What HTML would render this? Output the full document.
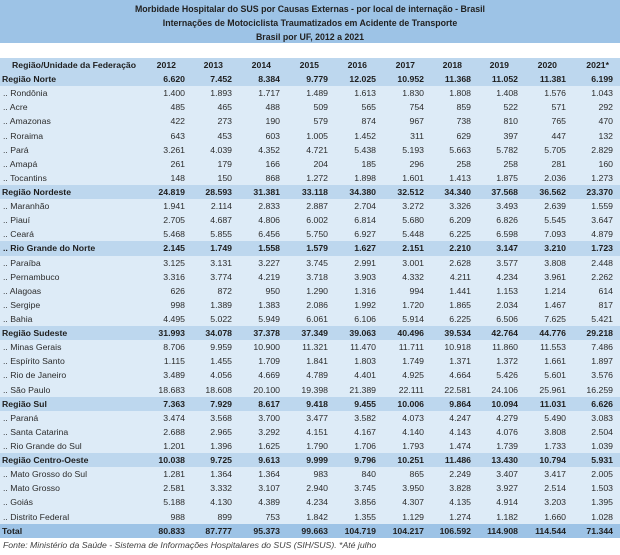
<!DOCTYPE html>
<html><head><meta charset="utf-8">
<style>
*{margin:0;padding:0;box-sizing:border-box}
html,body{width:620px;height:555px;background:#fff;overflow:hidden}
body{position:relative;font-family:"Liberation Sans",Arial,sans-serif;color:#2a2a2a}
#title{position:absolute;left:0;top:0;width:620px;height:43px;background:#9DC3E6;text-align:center;font-weight:bold;font-size:8.8px;line-height:14px;padding-top:2px;color:#222}
#tbl{position:absolute;left:0;top:58px;width:620px}
.r{position:relative;height:14.12px;line-height:14.12px;font-size:8.7px;background:#DDEBF7;color:#2c2c2c}
.r.g{background:#BDD7EE;font-weight:bold;color:#1e1e1e}
.r.h{background:#BDD7EE;font-weight:bold;color:#1e1e1e}
.r.t{background:#9DC3E6;font-weight:bold;color:#1e1e1e}
.r span{position:absolute;top:0;white-space:nowrap}
.r .l{left:2px}
.r.s .l{left:3px}
.r.h .l{left:12px}
.c1{right:435px}.c2{right:388px}.c3{right:340px}.c4{right:292px}.c5{right:244px}
.c6{right:196px}.c7{right:149px}.c8{right:102px}.c9{right:54px}.c10{right:7px}
.r.h .c1{right:444px}.r.h .c2{right:397px}.r.h .c3{right:349px}.r.h .c4{right:301px}.r.h .c5{right:253px}
.r.h .c6{right:205px}.r.h .c7{right:158px}.r.h .c8{right:111px}.r.h .c9{right:63px}.r.h .c10{right:11px}
#foot{position:absolute;left:3px;top:539px;font-style:italic;font-size:8.7px;line-height:12px;color:#404040;white-space:nowrap}
</style></head><body>
<div id="title">
<div>Morbidade Hospitalar do SUS por Causas Externas - por local de internação - Brasil</div>
<div>Internações de Motociclista Traumatizados em Acidente de Transporte</div>
<div>Brasil por UF, 2012 a 2021</div>
</div>
<div id="tbl">
<div class="r h"><span class="l">Região/Unidade da Federação</span><span class="c1">2012</span><span class="c2">2013</span><span class="c3">2014</span><span class="c4">2015</span><span class="c5">2016</span><span class="c6">2017</span><span class="c7">2018</span><span class="c8">2019</span><span class="c9">2020</span><span class="c10">2021*</span></div>
<div class="r g"><span class="l">Região Norte</span><span class="c1">6.620</span><span class="c2">7.452</span><span class="c3">8.384</span><span class="c4">9.779</span><span class="c5">12.025</span><span class="c6">10.952</span><span class="c7">11.368</span><span class="c8">11.052</span><span class="c9">11.381</span><span class="c10">6.199</span></div>
<div class="r s"><span class="l">.. Rondônia</span><span class="c1">1.400</span><span class="c2">1.893</span><span class="c3">1.717</span><span class="c4">1.489</span><span class="c5">1.613</span><span class="c6">1.830</span><span class="c7">1.808</span><span class="c8">1.408</span><span class="c9">1.576</span><span class="c10">1.043</span></div>
<div class="r s"><span class="l">.. Acre</span><span class="c1">485</span><span class="c2">465</span><span class="c3">488</span><span class="c4">509</span><span class="c5">565</span><span class="c6">754</span><span class="c7">859</span><span class="c8">522</span><span class="c9">571</span><span class="c10">292</span></div>
<div class="r s"><span class="l">.. Amazonas</span><span class="c1">422</span><span class="c2">273</span><span class="c3">190</span><span class="c4">579</span><span class="c5">874</span><span class="c6">967</span><span class="c7">738</span><span class="c8">810</span><span class="c9">765</span><span class="c10">470</span></div>
<div class="r s"><span class="l">.. Roraima</span><span class="c1">643</span><span class="c2">453</span><span class="c3">603</span><span class="c4">1.005</span><span class="c5">1.452</span><span class="c6">311</span><span class="c7">629</span><span class="c8">397</span><span class="c9">447</span><span class="c10">132</span></div>
<div class="r s"><span class="l">.. Pará</span><span class="c1">3.261</span><span class="c2">4.039</span><span class="c3">4.352</span><span class="c4">4.721</span><span class="c5">5.438</span><span class="c6">5.193</span><span class="c7">5.663</span><span class="c8">5.782</span><span class="c9">5.705</span><span class="c10">2.829</span></div>
<div class="r s"><span class="l">.. Amapá</span><span class="c1">261</span><span class="c2">179</span><span class="c3">166</span><span class="c4">204</span><span class="c5">185</span><span class="c6">296</span><span class="c7">258</span><span class="c8">258</span><span class="c9">281</span><span class="c10">160</span></div>
<div class="r s"><span class="l">.. Tocantins</span><span class="c1">148</span><span class="c2">150</span><span class="c3">868</span><span class="c4">1.272</span><span class="c5">1.898</span><span class="c6">1.601</span><span class="c7">1.413</span><span class="c8">1.875</span><span class="c9">2.036</span><span class="c10">1.273</span></div>
<div class="r g"><span class="l">Região Nordeste</span><span class="c1">24.819</span><span class="c2">28.593</span><span class="c3">31.381</span><span class="c4">33.118</span><span class="c5">34.380</span><span class="c6">32.512</span><span class="c7">34.340</span><span class="c8">37.568</span><span class="c9">36.562</span><span class="c10">23.370</span></div>
<div class="r s"><span class="l">.. Maranhão</span><span class="c1">1.941</span><span class="c2">2.114</span><span class="c3">2.833</span><span class="c4">2.887</span><span class="c5">2.704</span><span class="c6">3.272</span><span class="c7">3.326</span><span class="c8">3.493</span><span class="c9">2.639</span><span class="c10">1.559</span></div>
<div class="r s"><span class="l">.. Piauí</span><span class="c1">2.705</span><span class="c2">4.687</span><span class="c3">4.806</span><span class="c4">6.002</span><span class="c5">6.814</span><span class="c6">5.680</span><span class="c7">6.209</span><span class="c8">6.826</span><span class="c9">5.545</span><span class="c10">3.647</span></div>
<div class="r s"><span class="l">.. Ceará</span><span class="c1">5.468</span><span class="c2">5.855</span><span class="c3">6.456</span><span class="c4">5.750</span><span class="c5">6.927</span><span class="c6">5.448</span><span class="c7">6.225</span><span class="c8">6.598</span><span class="c9">7.093</span><span class="c10">4.879</span></div>
<div class="r g s"><span class="l">.. Rio Grande do Norte</span><span class="c1">2.145</span><span class="c2">1.749</span><span class="c3">1.558</span><span class="c4">1.579</span><span class="c5">1.627</span><span class="c6">2.151</span><span class="c7">2.210</span><span class="c8">3.147</span><span class="c9">3.210</span><span class="c10">1.723</span></div>
<div class="r s"><span class="l">.. Paraíba</span><span class="c1">3.125</span><span class="c2">3.131</span><span class="c3">3.227</span><span class="c4">3.745</span><span class="c5">2.991</span><span class="c6">3.001</span><span class="c7">2.628</span><span class="c8">3.577</span><span class="c9">3.808</span><span class="c10">2.448</span></div>
<div class="r s"><span class="l">.. Pernambuco</span><span class="c1">3.316</span><span class="c2">3.774</span><span class="c3">4.219</span><span class="c4">3.718</span><span class="c5">3.903</span><span class="c6">4.332</span><span class="c7">4.211</span><span class="c8">4.234</span><span class="c9">3.961</span><span class="c10">2.262</span></div>
<div class="r s"><span class="l">.. Alagoas</span><span class="c1">626</span><span class="c2">872</span><span class="c3">950</span><span class="c4">1.290</span><span class="c5">1.316</span><span class="c6">994</span><span class="c7">1.441</span><span class="c8">1.153</span><span class="c9">1.214</span><span class="c10">614</span></div>
<div class="r s"><span class="l">.. Sergipe</span><span class="c1">998</span><span class="c2">1.389</span><span class="c3">1.383</span><span class="c4">2.086</span><span class="c5">1.992</span><span class="c6">1.720</span><span class="c7">1.865</span><span class="c8">2.034</span><span class="c9">1.467</span><span class="c10">817</span></div>
<div class="r s"><span class="l">.. Bahia</span><span class="c1">4.495</span><span class="c2">5.022</span><span class="c3">5.949</span><span class="c4">6.061</span><span class="c5">6.106</span><span class="c6">5.914</span><span class="c7">6.225</span><span class="c8">6.506</span><span class="c9">7.625</span><span class="c10">5.421</span></div>
<div class="r g"><span class="l">Região Sudeste</span><span class="c1">31.993</span><span class="c2">34.078</span><span class="c3">37.378</span><span class="c4">37.349</span><span class="c5">39.063</span><span class="c6">40.496</span><span class="c7">39.534</span><span class="c8">42.764</span><span class="c9">44.776</span><span class="c10">29.218</span></div>
<div class="r s"><span class="l">.. Minas Gerais</span><span class="c1">8.706</span><span class="c2">9.959</span><span class="c3">10.900</span><span class="c4">11.321</span><span class="c5">11.470</span><span class="c6">11.711</span><span class="c7">10.918</span><span class="c8">11.860</span><span class="c9">11.553</span><span class="c10">7.486</span></div>
<div class="r s"><span class="l">.. Espírito Santo</span><span class="c1">1.115</span><span class="c2">1.455</span><span class="c3">1.709</span><span class="c4">1.841</span><span class="c5">1.803</span><span class="c6">1.749</span><span class="c7">1.371</span><span class="c8">1.372</span><span class="c9">1.661</span><span class="c10">1.897</span></div>
<div class="r s"><span class="l">.. Rio de Janeiro</span><span class="c1">3.489</span><span class="c2">4.056</span><span class="c3">4.669</span><span class="c4">4.789</span><span class="c5">4.401</span><span class="c6">4.925</span><span class="c7">4.664</span><span class="c8">5.426</span><span class="c9">5.601</span><span class="c10">3.576</span></div>
<div class="r s"><span class="l">.. São Paulo</span><span class="c1">18.683</span><span class="c2">18.608</span><span class="c3">20.100</span><span class="c4">19.398</span><span class="c5">21.389</span><span class="c6">22.111</span><span class="c7">22.581</span><span class="c8">24.106</span><span class="c9">25.961</span><span class="c10">16.259</span></div>
<div class="r g"><span class="l">Região Sul</span><span class="c1">7.363</span><span class="c2">7.929</span><span class="c3">8.617</span><span class="c4">9.418</span><span class="c5">9.455</span><span class="c6">10.006</span><span class="c7">9.864</span><span class="c8">10.094</span><span class="c9">11.031</span><span class="c10">6.626</span></div>
<div class="r s"><span class="l">.. Paraná</span><span class="c1">3.474</span><span class="c2">3.568</span><span class="c3">3.700</span><span class="c4">3.477</span><span class="c5">3.582</span><span class="c6">4.073</span><span class="c7">4.247</span><span class="c8">4.279</span><span class="c9">5.490</span><span class="c10">3.083</span></div>
<div class="r s"><span class="l">.. Santa Catarina</span><span class="c1">2.688</span><span class="c2">2.965</span><span class="c3">3.292</span><span class="c4">4.151</span><span class="c5">4.167</span><span class="c6">4.140</span><span class="c7">4.143</span><span class="c8">4.076</span><span class="c9">3.808</span><span class="c10">2.504</span></div>
<div class="r s"><span class="l">.. Rio Grande do Sul</span><span class="c1">1.201</span><span class="c2">1.396</span><span class="c3">1.625</span><span class="c4">1.790</span><span class="c5">1.706</span><span class="c6">1.793</span><span class="c7">1.474</span><span class="c8">1.739</span><span class="c9">1.733</span><span class="c10">1.039</span></div>
<div class="r g"><span class="l">Região Centro-Oeste</span><span class="c1">10.038</span><span class="c2">9.725</span><span class="c3">9.613</span><span class="c4">9.999</span><span class="c5">9.796</span><span class="c6">10.251</span><span class="c7">11.486</span><span class="c8">13.430</span><span class="c9">10.794</span><span class="c10">5.931</span></div>
<div class="r s"><span class="l">.. Mato Grosso do Sul</span><span class="c1">1.281</span><span class="c2">1.364</span><span class="c3">1.364</span><span class="c4">983</span><span class="c5">840</span><span class="c6">865</span><span class="c7">2.249</span><span class="c8">3.407</span><span class="c9">3.417</span><span class="c10">2.005</span></div>
<div class="r s"><span class="l">.. Mato Grosso</span><span class="c1">2.581</span><span class="c2">3.332</span><span class="c3">3.107</span><span class="c4">2.940</span><span class="c5">3.745</span><span class="c6">3.950</span><span class="c7">3.828</span><span class="c8">3.927</span><span class="c9">2.514</span><span class="c10">1.503</span></div>
<div class="r s"><span class="l">.. Goiás</span><span class="c1">5.188</span><span class="c2">4.130</span><span class="c3">4.389</span><span class="c4">4.234</span><span class="c5">3.856</span><span class="c6">4.307</span><span class="c7">4.135</span><span class="c8">4.914</span><span class="c9">3.203</span><span class="c10">1.395</span></div>
<div class="r s"><span class="l">.. Distrito Federal</span><span class="c1">988</span><span class="c2">899</span><span class="c3">753</span><span class="c4">1.842</span><span class="c5">1.355</span><span class="c6">1.129</span><span class="c7">1.274</span><span class="c8">1.182</span><span class="c9">1.660</span><span class="c10">1.028</span></div>
<div class="r t"><span class="l">Total</span><span class="c1">80.833</span><span class="c2">87.777</span><span class="c3">95.373</span><span class="c4">99.663</span><span class="c5">104.719</span><span class="c6">104.217</span><span class="c7">106.592</span><span class="c8">114.908</span><span class="c9">114.544</span><span class="c10">71.344</span></div>
</div>
<div id="foot">Fonte: Ministério da Saúde - Sistema de Informações Hospitalares do SUS (SIH/SUS). *Até julho</div>
</body></html>
